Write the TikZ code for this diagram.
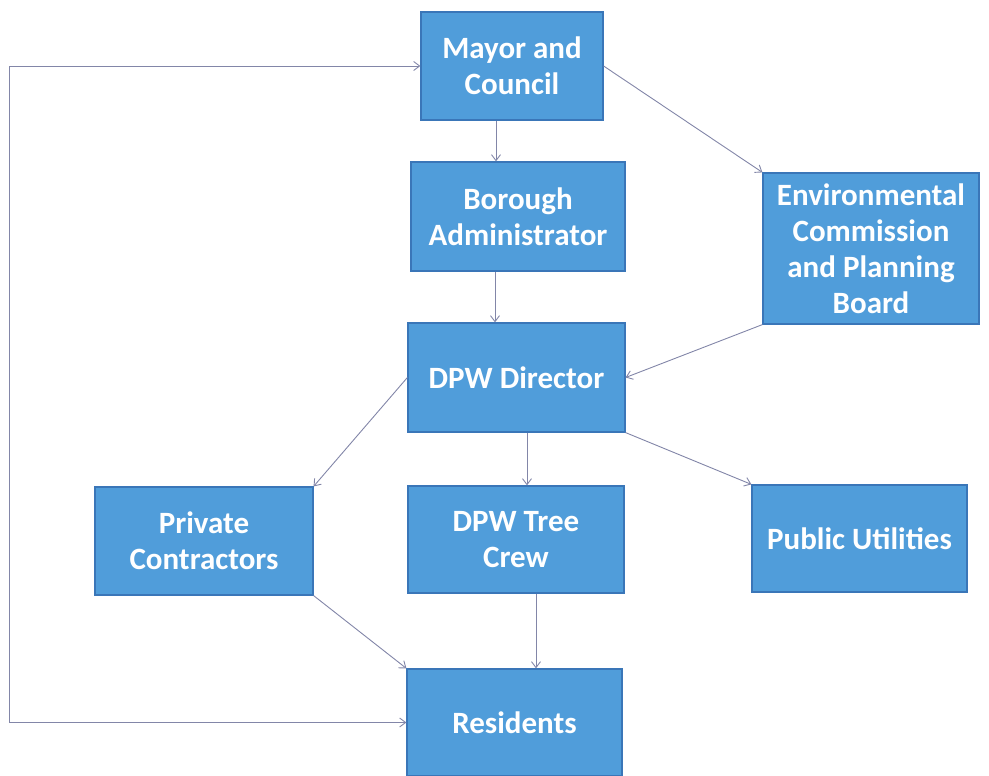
\documentclass[tikz,border=0pt]{standalone}
\usepackage{fontspec}
\setmainfont{Carlito}
\usetikzlibrary{arrows.meta}

\definecolor{boxblue}{RGB}{80,157,218}
\definecolor{boxedge}{RGB}{58,118,184}
\definecolor{linegray}{RGB}{130,134,168}

\begin{document}
\begin{tikzpicture}[x=1pt, y=-1pt,
        box/.style={draw=boxedge, line width=1.2pt, fill=boxblue, text=white,
            font=\fontsize{31}{36}\selectfont\bfseries, align=center,
            inner sep=0pt, minimum width=216pt, minimum height=107pt},
        conn/.style={draw=linegray, line width=0.9pt, -{Straight Barb[length=6pt, width=9pt]}}]
        \useasboundingbox (0, 0) rectangle (989, 776);

        \node[box, minimum width=182pt, minimum height=108pt] (mayor) at (512, 66) {Mayor and\\Council};
        \node[box, minimum width=214pt, minimum height=109pt] (admin) at (518, 216.5) {Borough\\Administrator};
        \node[box, minimum height=151pt] (env) at (871, 248.5) {Environmental\\Commission\\and Planning\\Board};
        \node[box, minimum width=217pt, minimum height=109pt] (director) at (516.5, 377.5) {DPW Director};
        \node[box, minimum width=218pt, minimum height=108pt] (contractors) at (204, 541) {Private\\Contractors};
        \node[box] (crew) at (516, 539.5) {DPW Tree\\Crew};
        \node[box, minimum width=215pt] (utilities) at (859.5, 538.5) {Public Utilities};
        \node[box, minimum width=215pt] (residents) at (514.5, 722.5) {Residents};

        \coordinate (loop) at (9, 0);

        \draw[conn] (mayor.south -| 496, 0) -- (admin.north -| 496, 0);
        \draw[conn] (mayor.east) -- (env.north west);
        \draw[conn] (admin.south -| 495, 0) -- (director.north -| 495, 0);
        \draw[conn] (env.south west) -- (director.east);
        \draw[conn] (director.west) -- (contractors.north east);
        \draw[conn] (director.south -| 527, 0) -- (crew.north -| 527, 0);
        \draw[conn] (director.south east) -- (utilities.north west);
        \draw[conn] (contractors.south east) -- (residents.north west);
        \draw[conn] (crew.south -| 536, 0) -- (residents.north -| 536, 0);
        \draw[conn, {Straight Barb[length=6pt, width=9pt]}-{Straight Barb[length=6pt, width=9pt]}]
            (residents.west) -- (residents.west -| loop) -- (mayor.west -| loop) -- (mayor.west);
\end{tikzpicture}
\end{document}
